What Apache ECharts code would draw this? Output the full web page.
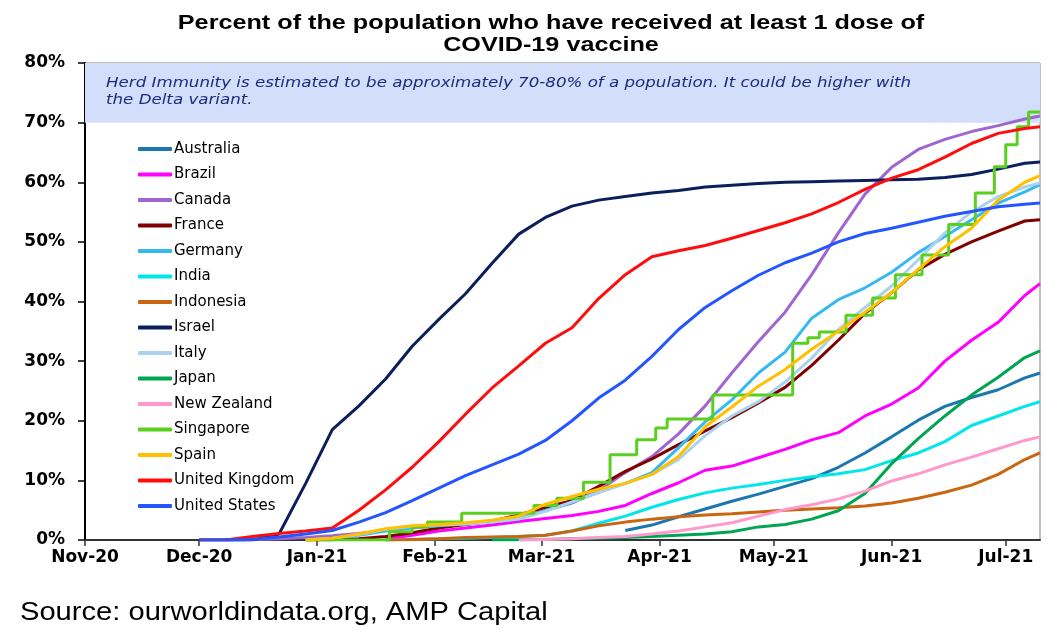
<!DOCTYPE html>
<html>
<head>
<meta charset="utf-8">
<title>COVID-19 vaccine, at least 1 dose</title>
<script src="https://cdn.jsdelivr.net/npm/echarts@6/dist/echarts.min.js"></script>
<style>
  html, body { margin: 0; padding: 0; background: #fff; }
  #chart { width: 1059px; height: 644px; }
</style>
</head>
<body>
<div id="chart"></div>
<script>
// weekly sample dates shared by most countries (share of population, %)
const dates = [
  "2020-12-01", "2020-12-08", "2020-12-15", "2020-12-22", "2020-12-29",
  "2021-01-05", "2021-01-12", "2021-01-19", "2021-01-26", "2021-02-02",
  "2021-02-09", "2021-02-16", "2021-02-23", "2021-03-02", "2021-03-09",
  "2021-03-16", "2021-03-23", "2021-03-30", "2021-04-06", "2021-04-13",
  "2021-04-20", "2021-04-27", "2021-05-04", "2021-05-11", "2021-05-18",
  "2021-05-25", "2021-06-01", "2021-06-08", "2021-06-15", "2021-06-22",
  "2021-06-29", "2021-07-06", "2021-07-10",
];

const australia = [null, null, null, null, null, null, null, null, null, null, null, null, null, null, null, null,
  1.6, 2.5, 3.9, 5.2, 6.5, 7.7, 9.0, 10.3, 12.2, 14.6, 17.3, 20.1, 22.4, 23.9, 25.2, 27.2, 28.0];
const brazil = [null, null, null, null, null, null, null,
  0.2, 0.8, 1.5, 2.0, 2.5, 3.1, 3.6, 4.1, 4.8, 5.8, 7.8, 9.6, 11.7, 12.4, 13.8, 15.2, 16.8, 18.0,
  20.8, 22.8, 25.5, 30.0, 33.5, 36.5, 41.0, 43.0];
const canada = [null, 0, 0.1, 0.2, 0.4, 0.7, 1.1, 1.6, 2.1, 2.4, 2.7, 3.0, 3.5, 5.0, 6.2, 8.3, 11.3,
  14.0, 17.8, 22.5, 28.0, 33.3, 38.2, 44.5, 51.5, 58.0, 62.5, 65.5, 67.2, 68.5, 69.5, 70.6, 71.1];
const france = [null, null, null, null,
  0, 0.05, 0.2, 0.6, 1.2, 2.0, 2.6, 3.2, 4.2, 5.5, 6.6, 9.0, 11.5, 13.6, 16.0, 18.3, 20.5, 23.0,
  25.6, 29.3, 33.5, 38.0, 41.5, 45.3, 47.9, 50.0, 51.8, 53.5, 53.7];
const germany = [null, null, null, null,
  0, 0.3, 0.8, 1.5, 2.0, 2.4, 2.7, 3.1, 3.6, 4.9, 6.3, 8.0, 9.5, 11.3, 15.5, 19.8, 23.5, 28.0,
  31.5, 37.2, 40.3, 42.3, 44.9, 48.2, 50.9, 53.7, 56.5, 58.4, 59.6];
const india = [null, null, null, null, null, null, null,
  0, 0.1, 0.2, 0.3, 0.4, 0.6, 0.8, 1.5, 2.8, 4.0, 5.5, 6.8, 7.9, 8.7, 9.3, 10.0, 10.6, 11.1,
  11.8, 13.3, 14.6, 16.5, 19.2, 20.8, 22.4, 23.2];
const indonesia = [null, null, null, null, null, null, null,
  0, 0.1, 0.2, 0.4, 0.5, 0.6, 0.8, 1.5, 2.4, 3.0, 3.5, 3.9, 4.2, 4.4, 4.7, 5.0, 5.2, 5.4,
  5.7, 6.2, 7.0, 8.0, 9.2, 11.0, 13.5, 14.6];
const israel = [0, 0, 0, 1.0, 9.5, 18.5, 22.5, 27.0, 32.5, 37.0, 41.3, 46.4, 51.3, 54.1, 56.0, 57.0,
  57.6, 58.2, 58.6, 59.2, 59.5, 59.8, 60.0, 60.1, 60.2, 60.3, 60.4, 60.5, 60.8, 61.3, 62.2, 63.2, 63.4];
const italy = [null, null, null, null,
  0, 0.3, 0.9, 1.8, 2.3, 2.5, 2.7, 3.0, 3.5, 4.8, 6.4, 8.0, 9.5, 11.0, 13.5, 17.5, 20.8, 23.2,
  26.5, 30.5, 35.3, 39.0, 42.6, 47.0, 51.5, 55.0, 57.6, 59.2, 59.9];
const japan = [null, null, null, null, null, null, null, null, null, null, null,
  0, 0.05, 0.1, 0.2, 0.3, 0.4, 0.6, 0.8, 1.0, 1.4, 2.2, 2.6, 3.5, 4.9, 7.8, 12.8, 17.0, 20.8,
  24.3, 27.3, 30.6, 31.7];
const newZealand = [null, null, null, null, null, null, null, null, null, null, null, null,
  0, 0.1, 0.2, 0.4, 0.6, 1.0, 1.5, 2.2, 2.9, 4.0, 5.1, 5.9, 6.9, 8.2, 9.9, 11.1, 12.6, 13.9,
  15.3, 16.7, 17.3];
const spain = [null, null, null, null,
  0, 0.3, 1.0, 1.9, 2.4, 2.6, 2.9, 3.3, 4.0, 6.0, 7.3, 8.5, 9.5, 11.0, 14.0, 19.0, 22.3, 25.8,
  28.6, 32.0, 35.0, 38.2, 41.5, 45.4, 49.2, 52.3, 57.0, 60.0, 61.1];
const unitedKingdom = [0, 0, 0.6, 1.1, 1.5, 2.0, 5.0, 8.4, 12.2, 16.5, 21.1, 25.5, 29.2, 33.0, 35.6,
  40.5, 44.5, 47.5, 48.5, 49.4, 50.6, 51.9, 53.2, 54.7, 56.6, 58.8, 60.7, 62.1, 64.2, 66.5, 68.2,
  69.0, 69.3];
const unitedStates = [0, 0, 0.1, 0.5, 1.0, 1.6, 3.0, 4.6, 6.6, 8.7, 10.8, 12.6, 14.4, 16.7, 20.0,
  23.8, 26.8, 30.8, 35.3, 39.0, 41.8, 44.4, 46.5, 48.1, 50.0, 51.4, 52.3, 53.3, 54.3, 55.1, 55.9,
  56.3, 56.5];

// Singapore reports in batches, so it gets its own dates (drawn as steps)
const sgDates = [
  "2020-12-29", "2021-01-20", "2021-01-26", "2021-01-30", "2021-02-08", "2021-02-27",
  "2021-03-05", "2021-03-12", "2021-03-19", "2021-03-26", "2021-03-31", "2021-04-03",
  "2021-04-15", "2021-05-06", "2021-05-10", "2021-05-13", "2021-05-20", "2021-05-27",
  "2021-06-02", "2021-06-09", "2021-06-16", "2021-06-23", "2021-06-28", "2021-07-01",
  "2021-07-04", "2021-07-07", "2021-07-10",
];
const singapore = [0, 1.4, 2.2, 3.0, 4.5, 5.8, 7.0, 9.7, 14.3, 16.8, 18.8, 20.3, 24.3, 33.0, 33.9,
  34.9, 37.7, 40.6, 44.5, 47.8, 52.9, 58.2, 62.6, 66.3, 69.3, 71.8, 71.8];

const countries = [
  { name: "Australia", values: australia, color: "#1b77ad" },
  { name: "Brazil", values: brazil, color: "#ff00ff" },
  { name: "Canada", values: canada, color: "#9e66cf" },
  { name: "France", values: france, color: "#800000" },
  { name: "Germany", values: germany, color: "#36b9f2" },
  { name: "India", values: india, color: "#00e6ea" },
  { name: "Indonesia", values: indonesia, color: "#c9660f" },
  { name: "Israel", values: israel, color: "#0b1f5c" },
  { name: "Italy", values: italy, color: "#a9d3ec" },
  { name: "Japan", values: japan, color: "#00a552" },
  { name: "New Zealand", values: newZealand, color: "#ff99cc" },
  { name: "Singapore", values: singapore, dates: sgDates, color: "#5acf1e", step: "end" },
  { name: "Spain", values: spain, color: "#ffc000" },
  { name: "United Kingdom", values: unitedKingdom, color: "#ff0d0d" },
  { name: "United States", values: unitedStates, color: "#2456ff" },
];

const yTicks = [0, 80, 10]; // min, max, interval
const monthNames = ["Jan", "Feb", "Mar", "Apr", "May", "Jun", "Jul", "Aug", "Sep", "Oct", "Nov", "Dec"];

const series = countries.map((c, i) => {
  const xs = c.dates || dates;
  const s = {
    name: c.name,
    type: "line",
    symbol: "none",
    step: c.step || false,
    lineStyle: { width: 3, color: c.color },
    itemStyle: { color: c.color },
    data: c.values.map((v, k) => [xs[k], v]),
  };
  if (i === 0) {
    // herd immunity band 70-80%
    s.markArea = {
      silent: true,
      itemStyle: { color: "#d3defa" },
      data: [[{ yAxis: 70 }, { yAxis: 80 }]],
    };
  }
  return s;
});

const myChart = echarts.init(document.getElementById("chart"), null, { renderer: "canvas" });
myChart.setOption({
  animation: false,
  backgroundColor: "#fff",
  grid: {
    left: 85, right: 19, top: 63, bottom: 104,
    outerBoundsMode: "none",
    show: true, borderColor: "#808080", borderWidth: 1,
  },
  xAxis: {
    type: "time",
    min: new Date(2020, 10, 1).getTime(),
    max: new Date(2021, 6, 10).getTime(),
    splitNumber: 8,
    splitLine: { show: false },
    axisLine: { lineStyle: { color: "#333", width: 2 } },
    axisTick: { show: true, length: 6, lineStyle: { color: "#333", width: 1.5 } },
    axisLabel: {
      margin: 9,
      color: "#000",
      fontFamily: "DejaVu Sans",
      fontWeight: "bold",
      fontSize: 17,
      hideOverlap: false,
      formatter: (val) => {
        const d = new Date(val);
        return monthNames[d.getMonth()] + "-" + String(d.getFullYear()).slice(2);
      },
    },
  },
  yAxis: {
    type: "value",
    min: yTicks[0],
    max: yTicks[1],
    interval: yTicks[2],
    splitLine: { show: false },
    axisLine: { show: true, lineStyle: { color: "#000", width: 2 } },
    axisTick: { show: true, length: 7, lineStyle: { color: "#000", width: 1.5 } },
    axisLabel: {
      margin: 20,
      color: "#000",
      fontFamily: "DejaVu Sans",
      fontWeight: "bold",
      fontSize: 17,
      formatter: "{value}%",
    },
  },
  legend: {
    orient: "vertical",
    left: 138,
    top: 141,
    padding: 0,
    itemWidth: 34,
    itemHeight: 4,
    itemGap: 9.5,
    icon: "roundRect",
    textStyle: { fontFamily: "DejaVu Sans", fontSize: 15, lineHeight: 16, color: "#000", padding: [0, 0, 0, -3] },
    data: countries.map((c) => c.name),
  },
  graphic: [
    {
      type: "text",
      x: 551,
      y: 12,
      scaleX: 1.26,
      style: {
        text: "Percent of the population who have received at least 1 dose of\nCOVID-19 vaccine",
        align: "center",
        font: "bold 20px 'Liberation Sans', Arial, sans-serif",
        lineHeight: 22,
        fill: "#000",
      },
    },
    {
      type: "text",
      x: 106,
      y: 75,
      z: 10,
      scaleX: 1.19,
      style: {
        text: "Herd Immunity is estimated to be approximately 70-80% of a population. It could be higher with\nthe Delta variant.",
        font: "italic 14px 'DejaVu Sans', sans-serif",
        lineHeight: 17,
        fill: "#1c2a80",
      },
    },
    {
      type: "text",
      x: 20,
      y: 600,
      scaleX: 1.12,
      style: {
        text: "Source: ourworldindata.org, AMP Capital",
        font: "26px 'Liberation Sans', Arial, sans-serif",
        fill: "#000",
      },
    },
  ],
  series: series,
});
</script>
</body>
</html>
